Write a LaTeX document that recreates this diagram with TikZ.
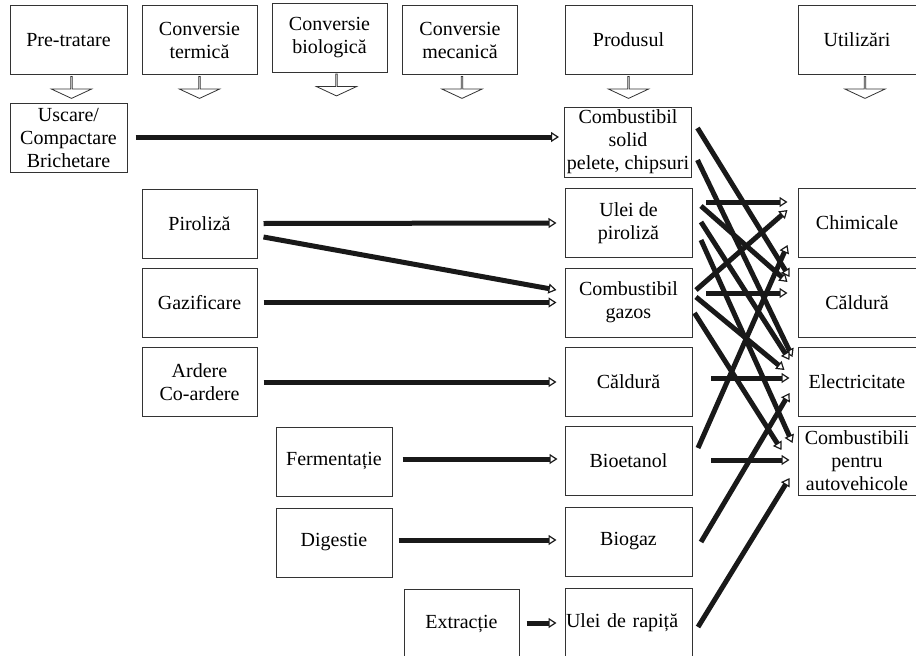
\documentclass[tikz,border=0pt]{standalone}
\usepackage{fontspec}
\setmainfont{Liberation Serif}
\usetikzlibrary{arrows.meta,shapes.arrows,positioning}

\begin{document}
\begin{tikzpicture}
[x=1pt, y=-1pt, font=\fontsize{20}{23}\selectfont, line width=1pt,
box/.style={rectangle, draw=black!80, line width=1pt, inner sep=1pt, minimum width=115pt, minimum height=69pt, align=center},
prodbox/.style={box, minimum width=127pt},
usebox/.style={box, minimum width=118pt},
downarrow/.style={single arrow, draw=black!80, line width=0.8pt, shape border rotate=270, inner sep=0pt, minimum width=40pt, single arrow head extend=10pt, single arrow tip angle=130, minimum height=22pt},
flow/.style={draw=black!90, line width=5pt, -{Triangle[length=8pt, width=10pt, line width=1.2pt, fill=white]}}]

\useasboundingbox (0,0) rectangle (916,656);

% header row
\node[box, minimum width=117pt] (pre) at (68.5,40) {Pre-tratare};
\node[box] (term) at (199.5,40) {Conversie\\termică};
\node[box] (bio) at (329.5,37.5) {Conversie\\biologică};
\node[box] (mec) at (460,40) {Conversie\\mecanică};
\node[prodbox] (prod) at (628.5,40) {Produsul};
\node[usebox] (util) at (857,40) {Utilizări};

\node[downarrow, below=1pt of pre, xshift=3pt] (preDown) {};
\node[downarrow, below=1pt of term] (termDown) {};
\node[downarrow, below=1pt of bio, xshift=7pt] (bioDown) {};
\node[downarrow, below=1pt of mec, xshift=2pt] (mecDown) {};
\node[downarrow, below=1pt of prod] (prodDown) {};
\node[downarrow, below=1pt of util, xshift=8pt] (utilDown) {};

% processes
\node[box, minimum width=117pt] (usc) at (68.5,138) {Uscare/\\Compactare\\Brichetare};
\node[box] (piro) at (199.5,223.5) {Piroliză};
\node[box] (gazif) at (199.5,302.5) {Gazificare};
\node[box] (ard) at (199.5,382) {Ardere\\Co-ardere};
\node[box, minimum width=116pt] (ferm) at (334,461.5) {Fermentație};
\node[box, minimum width=116pt] (dig) at (334,542.5) {Digestie};
\node[box, minimum height=70pt] (extr) at (461.5,624) {Extracție};

% products
\node[prodbox, minimum height=70pt] (solid) at (628,142) {Combustibil\\solid\\pelete, chipsuri};
\node[prodbox] (ulpiro) at (628.5,223) {Ulei de\\piroliză};
\node[prodbox] (gazos) at (628.5,302.5) {Combustibil\\gazos};
\node[prodbox] (caldp) at (628.5,382) {Căldură};
\node[prodbox] (bioet) at (628.5,461) {Bioetanol};
\node[prodbox] (biogaz) at (628.5,541.5) {Biogaz};
\node[prodbox, minimum height=70pt, text width=125pt, align=left] (rapita) at (628.5,623) {Ulei de rapiță};

% uses
\node[usebox] (chim) at (857,223) {Chimicale};
\node[usebox] (caldu) at (857,302.5) {Căldură};
\node[usebox] (elec) at (857,382) {Electricitate};
\node[usebox] (auto) at (857,461) {Combustibili\\pentru\\autovehicole};

% process -> product
\draw[flow] ([xshift=8pt,yshift=1pt]usc.east) -- ([xshift=-5pt,yshift=5pt]solid.west);
\draw[flow] ([xshift=6pt]piro.east) -- ([xshift=-8pt]ulpiro.west);
\draw[flow] ([xshift=6pt,yshift=-13.5pt]piro.east) -- ([xshift=-8pt,yshift=12.5pt]gazos.west);
\draw[flow] ([xshift=6pt]gazif.east) -- ([xshift=-8pt]gazos.west);
\draw[flow] ([xshift=6pt]ard.east) -- ([xshift=-8pt]caldp.west);
\draw[flow] ([xshift=10pt,yshift=2.5pt]ferm.east) -- ([xshift=-7pt,yshift=2pt]bioet.west);
\draw[flow] ([xshift=6pt,yshift=2.5pt]dig.east) -- ([xshift=-8pt,yshift=1.5pt]biogaz.west);
\draw[flow] ([xshift=7pt,yshift=1pt]extr.east) -- ([xshift=-8pt]rapita.west);

% product -> use
\foreach \a/\ax/\ay/\b/\bx/\by in {
  solid/5.5/14/caldu/-8/25.5, solid/5.5/-18/elec/-5/25,
  ulpiro/13.5/21/chim/-10/21, ulpiro/8.5/17/caldu/-10/20.5,
  ulpiro/8.5/1/elec/-8/22, ulpiro/8.5/-17/auto/-5/18,
  gazos/3.5/12.5/chim/-10/13, gazos/13.5/9.5/caldu/-10/9.5,
  gazos/3.5/5.5/elec/-13/12, gazos/2/-10.5/auto/-16/11,
  caldp/18.5/4/elec/-8/4,
  bioet/5.5/13/chim/-10/-22, bioet/18.5/1/auto/-8/1,
  biogaz/8.5/-0.5/elec/-8/-11,
  rapita/5.5/-4/auto/-8/-17} {
  \draw[flow] ([xshift=\ax pt,yshift=\ay pt]\a.east) -- ([xshift=\bx pt,yshift=\by pt]\b.west);
}

\end{tikzpicture}
\end{document}
